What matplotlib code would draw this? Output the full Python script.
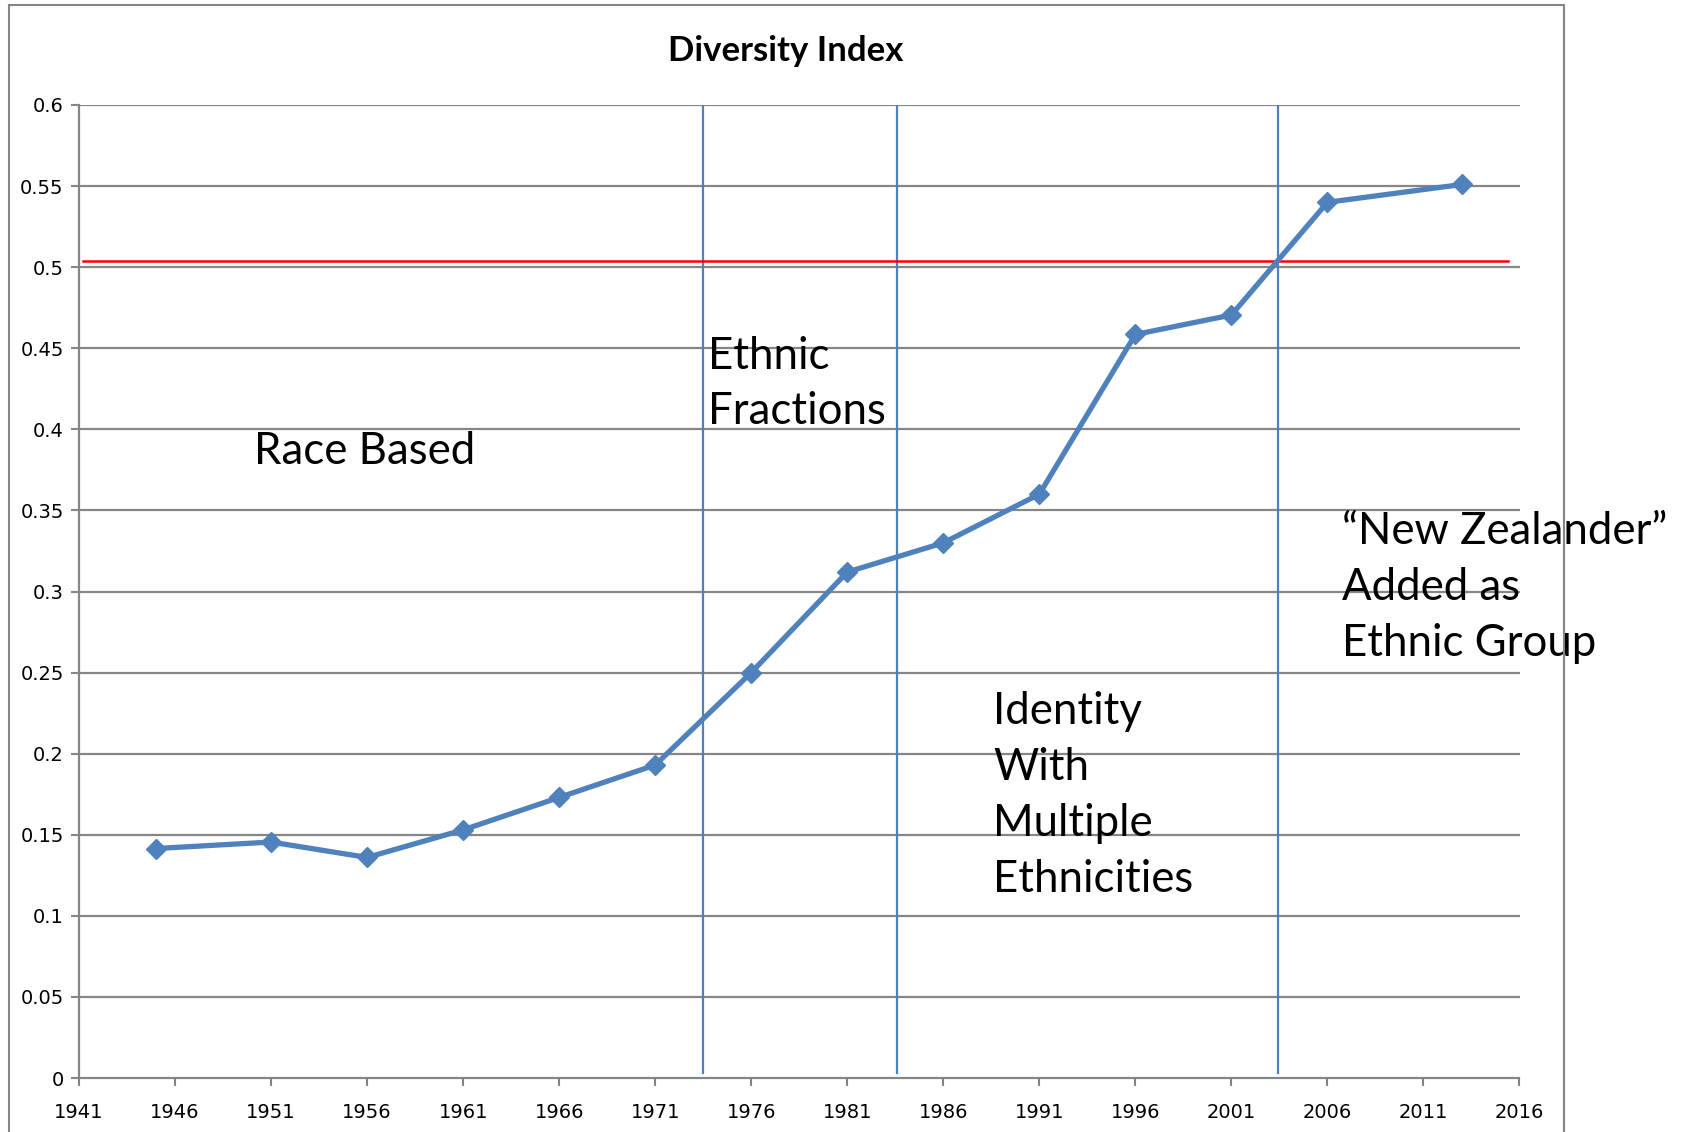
import matplotlib
matplotlib.use("Agg")
import matplotlib.pyplot as plt
from matplotlib.patches import Rectangle

# census years and diversity index values
years = [1945, 1951, 1956, 1961, 1966, 1971, 1976, 1981, 1986, 1991, 1996, 2001, 2006, 2013]
diversity = [0.1415, 0.1455, 0.136, 0.153, 0.173, 0.193, 0.250, 0.312, 0.330, 0.360, 0.4585, 0.4705, 0.540, 0.551]

# period dividers and reference level
dividers = [1973.5, 1983.6, 2003.45]
ref_level = 0.504

x_ticks = list(range(1941, 2017, 5))
y_ticks = [0, 0.05, 0.1, 0.15, 0.2, 0.25, 0.3, 0.35, 0.4, 0.45, 0.5, 0.55, 0.6]
y_labels = ["0", "0.05", "0.1", "0.15", "0.2", "0.25", "0.3", "0.35", "0.4", "0.45", "0.5", "0.55", "0.6"]

labels = [
    ("Race Based", 1950.1, 0.3865),
    ("Ethnic\nFractions", 1973.75, 0.428),
    ("Identity\nWith\nMultiple\nEthnicities", 1988.6, 0.1742),
    ("\u201cNew Zealander\u201d\nAdded as\nEthnic Group", 2006.75, 0.3023),
]

blue = "#4F81BD"
grey = "#868686"
tick_font = ["Liberation Sans Narrow", "DejaVu Sans"]
text_font = ["Lato", "DejaVu Sans"]

fig = plt.figure(figsize=(16.97, 11.32), dpi=100)
ax = fig.add_axes([79 / 1697, 1 - 1078 / 1132, (1519.5 - 79) / 1697, (1078 - 105) / 1132])

# outer chart frame
fig.patches.append(Rectangle((8.7 / 1697, -0.05), (1564 - 8.7) / 1697, 1.05 - 5.4 / 1132,
                             transform=fig.transFigure, fill=False, edgecolor=grey, linewidth=1.5))

for y in y_ticks[1:]:
    ax.axhline(y, color=grey, linewidth=1.6, zorder=1)

for x in dividers:
    ax.plot([x, x], [0.003, 0.6], color=blue, linewidth=1.6, zorder=2)

ax.plot([1941.2, 2015.4], [ref_level, ref_level], color="#FF0000", linewidth=1.8, zorder=3)

ax.plot(years, diversity, color=blue, linewidth=3.8, marker="D", markersize=10, zorder=4)

ax.set_xlim(1941, 2016)
ax.set_ylim(0, 0.6)
ax.set_xticks(x_ticks)
ax.set_xticklabels([str(x) for x in x_ticks], family=tick_font, fontsize=14)
ax.set_yticks(y_ticks)
ax.set_yticklabels(y_labels, family=tick_font, fontsize=14)
ax.tick_params(axis="both", colors=grey, labelcolor="black", length=6, width=1.5)
ax.tick_params(axis="x", pad=12)
ax.tick_params(axis="y", pad=5)

for side in ["top", "right"]:
    ax.spines[side].set_visible(False)
for side in ["left", "bottom"]:
    ax.spines[side].set_color(grey)
    ax.spines[side].set_linewidth(1.6)

for txt, x, y in labels:
    ax.text(x, y, txt, family=text_font, fontsize=31.5, va="center", ha="left",
            linespacing=1.45, zorder=5)

fig.text(786 / 1697, 1 - 51 / 1132, "Diversity Index", family=["Lato", "DejaVu Sans"],
         fontsize=25, fontweight="bold", ha="center", va="center")

fig.savefig("out.png", dpi=100)
